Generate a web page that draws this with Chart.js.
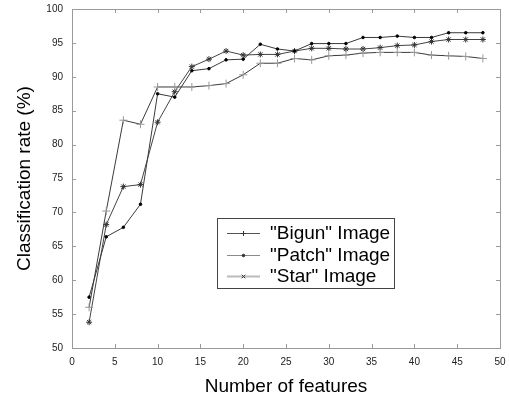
<!DOCTYPE html>
<html>
<head>
<meta charset="utf-8">
<script src="https://cdn.jsdelivr.net/npm/chart.js@4.4.1/dist/chart.umd.min.js"></script>
<style>
  html, body { margin: 0; padding: 0; background: #fff; }
  #wrap { width: 509px; height: 403px; }
</style>
</head>
<body>
<div id="wrap"><canvas id="chart" width="509" height="403"></canvas></div>
<script>
// data
const features = [2, 4, 6, 8, 10, 12, 14, 16, 18, 20, 22, 24, 26, 28, 30, 32, 34, 36, 38, 40, 42, 44, 46, 48];
const bigun = [56.0, 70.2, 83.6, 83.0, 88.5, 88.5, 88.5, 88.7, 89.0, 90.3, 92.0, 92.0, 92.7, 92.5, 93.1, 93.2, 93.5, 93.6, 93.6, 93.6, 93.2, 93.1, 93.0, 92.7];
const patch = [57.5, 66.4, 67.8, 71.2, 87.5, 87.0, 90.9, 91.2, 92.5, 92.6, 94.8, 94.1, 93.8, 94.9, 94.9, 94.9, 95.8, 95.8, 96.0, 95.8, 95.8, 96.5, 96.5, 96.5];
const star = [53.8, 68.2, 73.8, 74.1, 83.3, 87.8, 91.5, 92.6, 93.8, 93.2, 93.3, 93.3, 93.8, 94.2, 94.2, 94.1, 94.1, 94.3, 94.6, 94.7, 95.2, 95.5, 95.5, 95.5];
const seriesNames = ['"Bigun" Image', '"Patch" Image', '"Star" Image'];
const xTicks = { min: 0, max: 50, step: 5 };
const yTicks = { min: 50, max: 100, step: 5 };

const toPoints = (ys) => features.map((x, i) => ({ x: x, y: ys[i] }));

// frame with inward ticks on all four sides
const framePlugin = {
  id: "frame",
  afterDraw(chart) {
    const { ctx, chartArea: a, scales } = chart;
    ctx.save();
    ctx.strokeStyle = "#9a9a9a";
    ctx.lineWidth = 1;
    ctx.strokeRect(a.left + 0.5, a.top + 0.5, a.right - a.left, a.bottom - a.top);
    const len = 4;
    ctx.beginPath();
    scales.x.ticks.forEach((t) => {
      const px = Math.round(scales.x.getPixelForValue(t.value)) + 0.5;
      ctx.moveTo(px, a.bottom); ctx.lineTo(px, a.bottom - len);
      ctx.moveTo(px, a.top); ctx.lineTo(px, a.top + len);
    });
    scales.y.ticks.forEach((t) => {
      const py = Math.round(scales.y.getPixelForValue(t.value)) + 0.5;
      ctx.moveTo(a.left, py); ctx.lineTo(a.left + len, py);
      ctx.moveTo(a.right, py); ctx.lineTo(a.right - len, py);
    });
    ctx.stroke();
    ctx.restore();
  },
};

// legend box inside the plot
const legendPlugin = {
  id: "boxLegend",
  afterDraw(chart) {
    const { ctx } = chart;
    const box = { x: 217, y: 218, w: 177, h: 70 };
    const sampleColors = ["#555", "#8a8a8a", "#bbb"];
    const sampleStyles = ["cross", "circle", "crossRot"];
    ctx.save();
    ctx.fillStyle = "#fff";
    ctx.fillRect(box.x, box.y, box.w, box.h);
    ctx.strokeStyle = "#444";
    ctx.lineWidth = 1;
    ctx.strokeRect(box.x + 0.5, box.y + 0.5, box.w, box.h);
    ctx.font = "19px 'Liberation Sans', Arial, sans-serif";
    ctx.textBaseline = "middle";
    chart.data.datasets.forEach((ds, i) => {
      const yy = box.y + 15 + i * 21.5;
      ctx.strokeStyle = sampleColors[i];
      ctx.lineWidth = i === 2 ? 2 : 1;
      ctx.beginPath();
      ctx.moveTo(227, Math.round(yy) + 0.5);
      ctx.lineTo(260, Math.round(yy) + 0.5);
      ctx.stroke();
      ctx.strokeStyle = "#333";
      ctx.fillStyle = "#333";
      ctx.lineWidth = 1;
      Chart.helpers.drawPoint(ctx, {
        pointStyle: sampleStyles[i],
        radius: i === 1 ? 1.3 : 2.5,
        borderWidth: 1,
        rotation: 0,
      }, 243.5, Math.round(yy) + 0.5);
      ctx.fillStyle = "#000";
      ctx.fillText(ds.label, 270, yy + 1);
    });
    ctx.restore();
  },
};

const ctx = document.getElementById("chart").getContext("2d");
const chart = new Chart(ctx, {
  type: "scatter",
  data: {
    datasets: [
      {
        label: seriesNames[0],
        data: toPoints(bigun),
        showLine: true,
        borderColor: "#3a3a3a",
        borderWidth: 1,
        pointStyle: "cross",
        pointRadius: 4,
        pointBorderColor: "#999",
        pointBackgroundColor: "#999",
        pointBorderWidth: 1,
      },
      {
        label: seriesNames[1],
        data: toPoints(patch),
        showLine: true,
        borderColor: "#3a3a3a",
        borderWidth: 1,
        pointStyle: "circle",
        pointRadius: 1.3,
        pointBorderColor: "#000",
        pointBackgroundColor: "#000",
        pointBorderWidth: 1,
      },
      {
        label: seriesNames[2],
        data: toPoints(star),
        showLine: true,
        borderColor: "#444",
        borderWidth: 1,
        pointStyle: "star",
        pointRadius: 3,
        pointBorderColor: "#333",
        pointBackgroundColor: "#333",
        pointBorderWidth: 1,
      },
    ],
  },
  options: {
    responsive: false,
    animation: false,
    layout: { padding: { top: 9, right: 9, left: 0, bottom: 0 } },
    scales: {
      x: {
        type: "linear",
        min: xTicks.min,
        max: xTicks.max,
        grid: { display: false },
        border: { display: false },
        ticks: {
          stepSize: xTicks.step,
          padding: 0,
          color: "#222",
          font: { family: "'Liberation Sans', Arial, sans-serif", size: 10 },
          maxRotation: 0,
        },
        title: {
          display: true,
          text: "Number of features",
          color: "#000",
          font: { family: "'Liberation Sans', Arial, sans-serif", size: 19 },
          padding: { top: 0, bottom: 5 },
        },
        afterFit: (s) => { s.height = 55; },
      },
      y: {
        type: "linear",
        min: yTicks.min,
        max: yTicks.max,
        grid: { display: false },
        border: { display: false },
        ticks: {
          stepSize: yTicks.step,
          padding: 1,
          color: "#222",
          font: { family: "'Liberation Sans', Arial, sans-serif", size: 10 },
        },
        title: {
          display: true,
          text: "Classification rate (%)",
          color: "#000",
          font: { family: "'Liberation Sans', Arial, sans-serif", size: 19 },
          padding: { top: 13, bottom: 0 },
        },
        afterFit: (s) => { s.width = 72; },
      },
    },
    plugins: {
      legend: { display: false },
      tooltip: { enabled: false },
    },
  },
  plugins: [framePlugin, legendPlugin],
});
</script>
</body>
</html>
